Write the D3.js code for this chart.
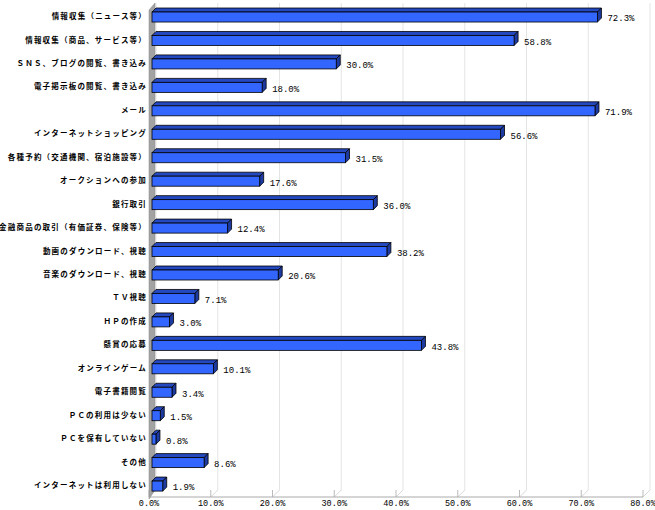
<!DOCTYPE html>
<html><head><meta charset="utf-8">
<script src="https://cdn.jsdelivr.net/npm/d3@7"></script>
<style>body{margin:0;background:#fff}</style>
</head><body>
<svg id="c" width="655" height="510"></svg>
<script>
const categories = ["情報収集（ニュース等）","情報収集（商品、サービス等）","ＳＮＳ、ブログの閲覧、書き込み","電子掲示板の閲覧、書き込み","メール","インターネットショッピング","各種予約（交通機関、宿泊施設等）","オークションへの参加","銀行取引","金融商品の取引（有価証券、保険等）","動画のダウンロード、視聴","音楽のダウンロード、視聴","ＴＶ視聴","ＨＰの作成","懸賞の応募","オンラインゲーム","電子書籍閲覧","ＰＣの利用は少ない","ＰＣを保有していない","その他","インターネットは利用しない"];
const values = [72.3,58.8,30.0,18.0,71.9,56.6,31.5,17.6,36.0,12.4,38.2,20.6,7.1,3.0,43.8,10.1,3.4,1.5,0.8,8.6,1.9];
const ticks = [0,10,20,30,40,50,60,70,80];

const svg = d3.select("#c");
const D = 7;           // wall depth
const x = d3.scaleLinear().domain([0,80]).range([149,643]);
const y = d3.scalePoint().domain(categories).range([5.3,497.8]).padding(0.5);
const yTop = 10, yBot = 497;

// gridlines on back wall + floor
const g = svg.append("g");
ticks.forEach(t=>{
  g.append("line").attr("x1",x(t)+D).attr("x2",x(t)+D).attr("y1",yTop-D).attr("y2",yBot-D)
    .attr("stroke","#e4e4e4").attr("stroke-width",1);
  g.append("line").attr("x1",x(t)).attr("y1",yBot).attr("x2",x(t)+D).attr("y2",yBot-D)
    .attr("stroke","#d8d8d8");
  g.append("line").attr("x1",x(t)).attr("x2",x(t)).attr("y1",yBot-7).attr("y2",yBot)
    .attr("stroke","#bbb");
});
g.append("line").attr("x1",x(0)).attr("x2",x(80)).attr("y1",yBot).attr("y2",yBot).attr("stroke","#aaa");

// left wall
svg.append("polygon")
  .attr("points",[[x(0),yTop],[x(0)+D-1,yTop-D],[x(0)+D-1,yBot-D],[x(0),yBot+2]].map(p=>p.join(",")).join(" "))
  .attr("fill","#a3a3a3").attr("stroke","#888").attr("stroke-width",0.5);

// bars
const d = 4, h = 10;
const bars = svg.append("g");
categories.forEach((c,i)=>{
  const v = values[i];
  const x0 = x(0)+3, x1 = x(v)+2, yc = y(c), y0 = yc-h/2, y1 = yc+h/2;
  bars.append("polygon").attr("points",[[x0,y0],[x0+d,y0-d],[x1+d,y0-d],[x1,y0]].map(p=>p.join(",")).join(" "))
    .attr("fill","#2448c0").attr("stroke","#000").attr("stroke-width",0.8).attr("stroke-linejoin","round");
  bars.append("polygon").attr("points",[[x1,y0],[x1+d,y0-d],[x1+d,y1-d],[x1,y1]].map(p=>p.join(",")).join(" "))
    .attr("fill","#1c3aa0").attr("stroke","#000").attr("stroke-width",0.8).attr("stroke-linejoin","round");
  bars.append("rect").attr("x",x0).attr("y",y0).attr("width",x1-x0).attr("height",h)
    .attr("fill","#3366ff").attr("stroke","#000").attr("stroke-width",0.8);
  svg.append("text").attr("x",x1+d+6).attr("y",yc+2).attr("dominant-baseline","middle")
    .attr("font-family","Liberation Mono").attr("font-size",9).attr("fill","#000")
    .text(d3.format(".1f")(v)+"%");
  svg.append("text").attr("x",147).attr("y",yc).attr("text-anchor","end").attr("dominant-baseline","middle")
    .attr("font-family","Noto Sans CJK JP").attr("font-weight","bold").attr("font-size",7.5)
    .attr("letter-spacing",1.2).attr("fill","#000").text(c);
});

// x axis labels
ticks.forEach(t=>{
  svg.append("text").attr("x",x(t)).attr("y",506).attr("text-anchor","middle")
    .attr("font-family","Liberation Mono").attr("font-size",8.5).attr("fill","#000")
    .text(d3.format(".1f")(t)+"%");
});
</script>
</body></html>
